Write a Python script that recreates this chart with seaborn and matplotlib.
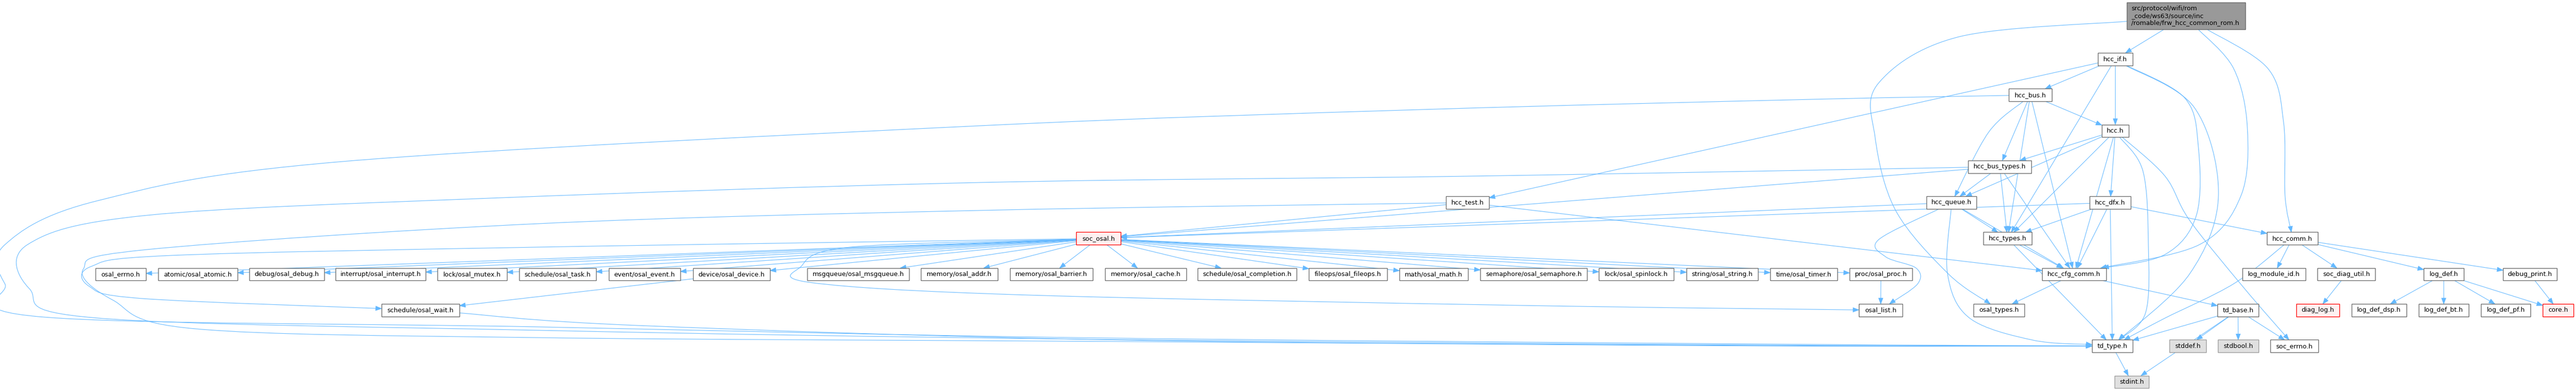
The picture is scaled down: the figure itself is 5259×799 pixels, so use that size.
"""
Include dependency graph of frw_hcc_common_rom.h, redrawn with matplotlib/seaborn.
"""
import numpy as np
import matplotlib
matplotlib.use("Agg")
import matplotlib.pyplot as plt
from matplotlib.patches import Rectangle, Polygon, PathPatch
from matplotlib.path import Path
import seaborn as sns

# ── Data: node labels ─────────────────────────────────────────────────────────
ROOT = "src/protocol/wifi/rom\n_code/ws63/source/inc\n/romable/frw_hcc_common_rom.h"
HCC_NODES = ["hcc_if.h", "hcc_bus.h", "hcc.h", "hcc_bus_types.h", "hcc_test.h",
             "hcc_queue.h", "hcc_dfx.h", "hcc_types.h", "hcc_comm.h", "hcc_cfg_comm.h"]
OSAL_CHILDREN = ["osal_errno.h", "atomic/osal_atomic.h", "debug/osal_debug.h",
                 "interrupt/osal_interrupt.h", "lock/osal_mutex.h", "schedule/osal_task.h",
                 "event/osal_event.h", "device/osal_device.h", "msgqueue/osal_msgqueue.h",
                 "memory/osal_addr.h", "memory/osal_barrier.h", "memory/osal_cache.h",
                 "schedule/osal_completion.h", "fileops/osal_fileops.h", "math/osal_math.h",
                 "semaphore/osal_semaphore.h", "lock/osal_spinlock.h", "string/osal_string.h",
                 "time/osal_timer.h", "proc/osal_proc.h"]
LOG_NODES = ["log_module_id.h", "soc_diag_util.h", "log_def.h", "debug_print.h",
             "diag_log.h", "log_def_dsp.h", "log_def_bt.h", "log_def_pf.h", "core.h"]
BASE_NODES = ["soc_osal.h", "schedule/osal_wait.h", "osal_list.h", "osal_types.h",
              "td_base.h", "td_type.h", "stddef.h", "stdbool.h", "soc_errno.h", "stdint.h"]
RED_NODES = ["soc_osal.h", "diag_log.h", "core.h"]       # undocumented headers
SYS_NODES = ["stddef.h", "stdbool.h", "stdint.h"]         # system headers

# ── Data: include edges (source includes target) ─────────────────────────────
EDGES = [
    (ROOT, "hcc_if.h"), (ROOT, "hcc_comm.h"), (ROOT, "hcc_cfg_comm.h"), (ROOT, "osal_types.h"),
    ("hcc_if.h", "hcc_bus.h"), ("hcc_if.h", "hcc.h"), ("hcc_if.h", "hcc_test.h"),
    ("hcc_if.h", "hcc_types.h"), ("hcc_if.h", "hcc_cfg_comm.h"), ("hcc_if.h", "td_type.h"),
    ("hcc_bus.h", "hcc_bus_types.h"), ("hcc_bus.h", "hcc.h"), ("hcc_bus.h", "hcc_queue.h"),
    ("hcc_bus.h", "hcc_types.h"), ("hcc_bus.h", "hcc_cfg_comm.h"), ("hcc_bus.h", "td_type.h"),
    ("hcc.h", "hcc_bus_types.h"), ("hcc.h", "hcc_queue.h"), ("hcc.h", "hcc_dfx.h"),
    ("hcc.h", "hcc_types.h"), ("hcc.h", "hcc_cfg_comm.h"), ("hcc.h", "td_type.h"),
    ("hcc.h", "soc_errno.h"),
    ("hcc_bus_types.h", "hcc_queue.h"), ("hcc_bus_types.h", "hcc_types.h"),
    ("hcc_bus_types.h", "hcc_cfg_comm.h"), ("hcc_bus_types.h", "soc_osal.h"),
    ("hcc_bus_types.h", "td_type.h"),
    ("hcc_queue.h", "hcc_types.h"), ("hcc_queue.h", "hcc_cfg_comm.h"), ("hcc_queue.h", "soc_osal.h"),
    ("hcc_queue.h", "osal_list.h"), ("hcc_queue.h", "td_type.h"),
    ("hcc_test.h", "soc_osal.h"), ("hcc_test.h", "hcc_cfg_comm.h"), ("hcc_test.h", "td_type.h"),
    ("hcc_dfx.h", "hcc_types.h"), ("hcc_dfx.h", "hcc_cfg_comm.h"), ("hcc_dfx.h", "hcc_comm.h"),
    ("hcc_dfx.h", "soc_osal.h"), ("hcc_dfx.h", "td_type.h"),
    ("hcc_types.h", "hcc_cfg_comm.h"), ("hcc_types.h", "td_type.h"),
    ("hcc_comm.h", "log_module_id.h"), ("hcc_comm.h", "soc_diag_util.h"), ("hcc_comm.h", "log_def.h"),
    ("hcc_comm.h", "debug_print.h"), ("hcc_comm.h", "td_type.h"),
    ("hcc_cfg_comm.h", "osal_types.h"), ("hcc_cfg_comm.h", "td_base.h"),
] + [("soc_osal.h", c) for c in OSAL_CHILDREN] + [
    ("soc_osal.h", "schedule/osal_wait.h"), ("soc_osal.h", "osal_list.h"),
    ("device/osal_device.h", "schedule/osal_wait.h"), ("proc/osal_proc.h", "osal_list.h"),
    ("schedule/osal_wait.h", "td_type.h"),
    ("soc_diag_util.h", "diag_log.h"),
    ("log_def.h", "log_def_dsp.h"), ("log_def.h", "log_def_bt.h"), ("log_def.h", "log_def_pf.h"),
    ("log_def.h", "core.h"), ("debug_print.h", "core.h"),
    ("td_base.h", "td_type.h"), ("td_base.h", "stdint.h"), ("td_base.h", "stddef.h"),
    ("td_base.h", "stdbool.h"), ("td_base.h", "soc_errno.h"),
    ("td_type.h", "stdint.h"),
]

# ── Layout (pixel extents): label -> (left, right, rank) ──
LAYOUT = {
    ROOT: (4342, 4584, 0),
    "hcc_if.h": (4283, 4354, 1), "hcc_bus.h": (4101, 4189, 2), "hcc.h": (4291, 4346, 3),
    "hcc_bus_types.h": (4018, 4147, 4),
    "hcc_test.h": (2952, 3040, 5), "hcc_queue.h": (3933, 4035, 5), "hcc_dfx.h": (4266, 4350, 5),
    "soc_osal.h": (2197, 2288, 6), "hcc_types.h": (4049, 4148, 6), "hcc_comm.h": (4628, 4732, 6),
    "osal_errno.h": (195, 298, 7), "atomic/osal_atomic.h": (323, 485, 7),
    "debug/osal_debug.h": (509, 662, 7), "interrupt/osal_interrupt.h": (685, 869, 7),
    "lock/osal_mutex.h": (893, 1035, 7), "schedule/osal_task.h": (1060, 1217, 7),
    "event/osal_event.h": (1243, 1389, 7), "device/osal_device.h": (1415, 1572, 7),
    "msgqueue/osal_msgqueue.h": (1648, 1856, 7), "memory/osal_addr.h": (1880, 2037, 7),
    "memory/osal_barrier.h": (2062, 2231, 7), "memory/osal_cache.h": (2256, 2422, 7),
    "schedule/osal_completion.h": (2445, 2647, 7), "fileops/osal_fileops.h": (2672, 2832, 7),
    "math/osal_math.h": (2857, 2997, 7), "semaphore/osal_semaphore.h": (3022, 3240, 7),
    "lock/osal_spinlock.h": (3264, 3417, 7), "string/osal_string.h": (3443, 3589, 7),
    "time/osal_timer.h": (3614, 3751, 7), "proc/osal_proc.h": (3776, 3904, 7),
    "hcc_cfg_comm.h": (4169, 4300, 7), "log_module_id.h": (4578, 4707, 7),
    "soc_diag_util.h": (4731, 4849, 7), "log_def.h": (4948, 5030, 7),
    "debug_print.h": (5110, 5220, 7),
    "schedule/osal_wait.h": (779, 938, 8), "osal_list.h": (3795, 3884, 8),
    "osal_types.h": (4029, 4133, 8), "td_base.h": (4527, 4611, 8), "diag_log.h": (4688, 4776, 8),
    "log_def_dsp.h": (4801, 4913, 8), "log_def_bt.h": (4938, 5040, 8),
    "log_def_pf.h": (5065, 5166, 8), "core.h": (5191, 5254, 8),
    "td_type.h": (4271, 4354, 9), "stddef.h": (4429, 4504, 9), "stdbool.h": (4528, 4611, 9),
    "soc_errno.h": (4635, 4733, 9),
    "stdint.h": (4317, 4387, 10),
}

# spline waypoints for the edges graphviz bent around other nodes
ROUTES = {
    (ROOT, "osal_types.h"): [(4000, 75), (3835, 170), (3828, 280), (3870, 430), (3978, 560)],
    (ROOT, "hcc_comm.h"): [(4630, 140), (4662, 250), (4665, 400)],
    (ROOT, "hcc_cfg_comm.h"): [(4560, 140), (4588, 260), (4575, 400), (4490, 500)],
    ("hcc_if.h", "hcc_cfg_comm.h"): [(4460, 200), (4488, 300), (4484, 440), (4420, 520)],
    ("hcc_if.h", "td_type.h"): [(4480, 220), (4529, 400), (4470, 560)],
    ("hcc.h", "td_type.h"): [(4375, 350), (4386, 500), (4380, 640)],
    ("hcc.h", "soc_errno.h"): [(4420, 360), (4470, 450), (4580, 587)],
    ("hcc_bus.h", "hcc_queue.h"): [(4060, 270)],
    ("hcc_bus.h", "td_type.h"): [(3700, 203), (2900, 224), (2000, 257), (700, 330), (200, 410),
                                 (10, 500), (10, 580), (90, 648), (1100, 668), (2200, 690),
                                 (3600, 703)],
    ("hcc_bus_types.h", "td_type.h"): [(3000, 360), (2000, 373), (1000, 405), (300, 440),
                                       (56, 500), (60, 590), (200, 650), (1100, 675),
                                       (2200, 693), (3600, 705)],
    ("hcc_test.h", "td_type.h"): [(2000, 430), (1100, 457), (300, 510), (170, 550), (230, 613),
                                  (400, 672), (1100, 690), (2300, 698), (3600, 707)],
    ("schedule/osal_wait.h", "td_type.h"): [(1300, 665), (2300, 695), (3600, 706)],
    ("soc_osal.h", "schedule/osal_wait.h"): [(1100, 505), (350, 522), (185, 545), (182, 585),
                                             (290, 610)],
    ("soc_osal.h", "osal_list.h"): [(1736, 505), (1635, 545), (1660, 578), (2100, 603),
                                    (3100, 624)],
    ("hcc_queue.h", "osal_list.h"): [(3835, 490), (3850, 525), (3912, 548), (3915, 580)],
    ("hcc_queue.h", "td_type.h"): [(3976, 560), (4021, 650), (4150, 695)],
    ("hcc_comm.h", "td_type.h"): [(4560, 580), (4420, 650)],
}

# ── Style ─────────────────────────────────────────────────────────────────────
W, H = 5259, 799
EDGE_COLOR = "#63b8ff"
Y_TOP, Y_STEP, HALF_H = 47.5, 73.3, 12.8
FONT_PT = 9.4

sns.set_theme(style="white")
plt.rcParams["font.family"] = ["DejaVu Sans"]


def box(label):
    left, right, rank = LAYOUT[label]
    if rank == 0:
        return (left + right) / 2, 32.5, (right - left) / 2, 27.8
    return (left + right) / 2, Y_TOP + Y_STEP * rank, (right - left) / 2, HALF_H


def clip(label, toward):
    cx, cy, hw, hh = box(label)
    dx, dy = toward[0] - cx, toward[1] - cy
    t = min(hw / abs(dx) if dx else np.inf, hh / abs(dy) if dy else np.inf)
    return np.array([cx + t * dx, cy + t * dy])


def spline(points):
    pts = [np.asarray(p, float) for p in points]
    verts, codes = [pts[0]], [Path.MOVETO]
    n = len(pts)
    c2 = pts[0]
    for i in range(n - 1):
        p0 = pts[i - 1] if i > 0 else pts[i]
        p1, p2 = pts[i], pts[i + 1]
        p3 = pts[i + 2] if i + 2 < n else pts[i + 1]
        c1 = p1 + (p2 - p0) / 6.0
        c2 = p2 - (p3 - p1) / 6.0
        verts += [c1, c2, p2]
        codes += [Path.CURVE4] * 3
    return Path(verts, codes), pts[-1] - c2


fig = plt.figure(figsize=(W / 100, H / 100), dpi=100)
ax = fig.add_axes([0, 0, 1, 1])
ax.set_xlim(0, W)
ax.set_ylim(H, 0)
ax.set_axis_off()
sns.despine(ax=ax, left=True, bottom=True)

# edges
for src, dst in EDGES:
    via = ROUTES.get((src, dst), [])
    s_box, d_box = box(src), box(dst)
    first = via[0] if via else d_box[:2]
    last = via[-1] if via else s_box[:2]
    start = clip(src, first)
    tip = clip(dst, last)
    path, direction = spline([start] + list(via) + [tip])
    ax.add_patch(PathPatch(path, facecolor="none", edgecolor=EDGE_COLOR, lw=0.8,
                           capstyle="butt", zorder=1))
    d = direction / np.hypot(*direction)
    nrm = np.array([-d[1], d[0]])
    base = tip - d * 12
    ax.add_patch(Polygon([tip, base + nrm * 4.5, base - nrm * 4.5], closed=True,
                         facecolor=EDGE_COLOR, edgecolor=EDGE_COLOR, lw=0.6, zorder=2))

# nodes
for label, (left, right, rank) in LAYOUT.items():
    cx, cy, hw, hh = box(label)
    if label == ROOT:
        face, edge = "#999999", "#666666"
    elif label in RED_NODES:
        face, edge = "#fff0f0", "#ff0000"
    elif label in SYS_NODES:
        face, edge = "#e0e0e0", "#999999"
    else:
        face, edge = "white", "#666666"
    ax.add_patch(Rectangle((cx - hw, cy - hh), 2 * hw, 2 * hh, facecolor=face,
                           edgecolor=edge, lw=1.0, zorder=3))
    if label == ROOT:
        ax.text(left + 9, cy, label, ha="left", va="center", fontsize=FONT_PT,
                linespacing=1.15, color="black", zorder=4)
    else:
        ax.text(cx, cy, label, ha="center", va="center", fontsize=FONT_PT,
                color="black", zorder=4)

fig.savefig("out.png", dpi=100, facecolor="white")
plt.close(fig)
